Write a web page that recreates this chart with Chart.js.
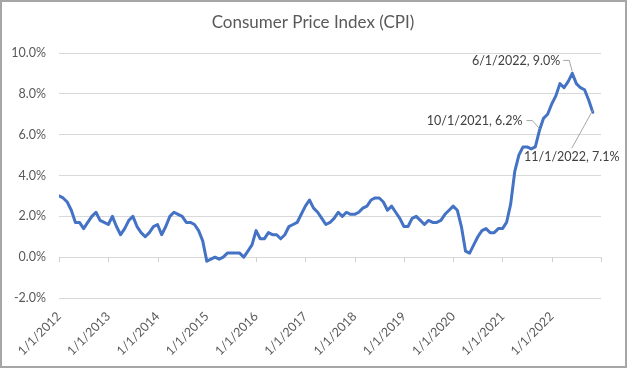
<!DOCTYPE html>
<html>
<head>
<meta charset="utf-8">
<script src="https://cdn.jsdelivr.net/npm/chart.js@4.4.0/dist/chart.umd.min.js"></script>
<style>
  html, body { margin: 0; padding: 0; background: #fff; }
</style>
</head>
<body>
<canvas id="cpiChart" width="627" height="368"></canvas>
<script>
// monthly CPI, year over year %, starting 1/1/2012
const startYear = 2012;
const yearLabels = ['1/1/2012', '1/1/2013', '1/1/2014', '1/1/2015', '1/1/2016', '1/1/2017',
  '1/1/2018', '1/1/2019', '1/1/2020', '1/1/2021', '1/1/2022'];
const cpi = [
  3.0, 2.9, 2.7, 2.3, 1.7, 1.7, 1.4, 1.7, 2.0, 2.2, 1.8, 1.7,   // 2012
  1.6, 2.0, 1.5, 1.1, 1.4, 1.8, 2.0, 1.5, 1.2, 1.0, 1.2, 1.5,   // 2013
  1.6, 1.1, 1.5, 2.0, 2.2, 2.1, 2.0, 1.7, 1.7, 1.6, 1.3, 0.8,   // 2014
  -0.2, -0.1, 0.0, -0.1, 0.0, 0.2, 0.2, 0.2, 0.2, 0.0, 0.3, 0.6, // 2015
  1.3, 0.9, 0.9, 1.2, 1.1, 1.1, 0.9, 1.1, 1.5, 1.6, 1.7, 2.1,   // 2016
  2.5, 2.8, 2.4, 2.2, 1.9, 1.6, 1.7, 1.9, 2.2, 2.0, 2.2, 2.1,   // 2017
  2.1, 2.2, 2.4, 2.5, 2.8, 2.9, 2.9, 2.7, 2.3, 2.5, 2.2, 1.9,   // 2018
  1.5, 1.5, 1.9, 2.0, 1.8, 1.6, 1.8, 1.7, 1.7, 1.8, 2.1, 2.3,   // 2019
  2.5, 2.3, 1.5, 0.3, 0.2, 0.6, 1.0, 1.3, 1.4, 1.2, 1.2, 1.4,   // 2020
  1.4, 1.7, 2.6, 4.2, 5.0, 5.4, 5.4, 5.3, 5.4, 6.2, 6.8, 7.0,   // 2021
  7.5, 7.9, 8.5, 8.3, 8.6, 9.0, 8.5, 8.3, 8.2, 7.7, 7.1         // 2022
];
const callouts = ['10/1/2021', '6/1/2022', '11/1/2022'];

const fontFamily = 'Lato, "Open Sans", sans-serif';
const textColor = '#595959';

function monthIndex(date) {
  const [m, , y] = date.split('/').map(Number);
  return (y - startYear) * 12 + (m - 1);
}

// label placement for each callout, relative to its point
const calloutPlacement = {
  '10/1/2021': { textX: -17, textY: -10, align: 'right', elbow: [[-13, -10], [-7, -10]] },
  '6/1/2022': { textX: -12, textY: -12, align: 'right', elbow: [[-9, -13], [-3, -13]] },
  '11/1/2022': { textX: -21, textY: 45, align: 'center', elbow: [[-21, 36]] }
};

const frameAndTitle = {
  id: 'frameAndTitle',
  afterDraw(chart) {
    const ctx = chart.ctx;
    ctx.save();
    ctx.strokeStyle = '#a6a6a6';
    ctx.lineWidth = 2;
    ctx.strokeRect(1, 1, chart.width - 2, chart.height - 2);
    ctx.fillStyle = textColor;
    ctx.font = '17px ' + fontFamily;
    ctx.textAlign = 'center';
    ctx.textBaseline = 'middle';
    ctx.fillText('Consumer Price Index (CPI)', 313, 23);
    ctx.restore();
  }
};

const zeroTicks = {
  id: 'zeroTicks',
  beforeDatasetsDraw(chart) {
    const ctx = chart.ctx;
    const x = chart.scales.x;
    const y0 = chart.scales.y.getPixelForValue(0);
    ctx.save();
    ctx.strokeStyle = '#d0d0d0';
    ctx.lineWidth = 1;
    ctx.beginPath();
    for (let m = 0; m <= yearLabels.length * 12; m += 12) {
      const px = Math.round(x.getPixelForValue(m)) + 0.5;
      ctx.moveTo(px, y0);
      ctx.lineTo(px, y0 + 5);
    }
    ctx.stroke();
    ctx.restore();
  }
};

const calloutLabels = {
  id: 'calloutLabels',
  afterDatasetsDraw(chart) {
    const ctx = chart.ctx;
    const xs = chart.scales.x;
    const ys = chart.scales.y;
    ctx.save();
    ctx.font = '12.5px ' + fontFamily;
    ctx.textBaseline = 'middle';
    callouts.forEach(date => {
      const i = monthIndex(date);
      const px = xs.getPixelForValue(i);
      const py = ys.getPixelForValue(cpi[i]);
      const p = calloutPlacement[date];
      ctx.strokeStyle = '#a6a6a6';
      ctx.lineWidth = 1;
      ctx.beginPath();
      p.elbow.forEach(([dx, dy], k) => {
        if (k === 0) ctx.moveTo(px + dx, py + dy);
        else ctx.lineTo(px + dx, py + dy);
      });
      ctx.lineTo(px, py - 2);
      ctx.stroke();
      ctx.fillStyle = '#404040';
      ctx.textAlign = p.align;
      ctx.fillText(date + ', ' + cpi[i].toFixed(1) + '%', px + p.textX, py + p.textY);
    });
    ctx.restore();
  }
};

new Chart(document.getElementById('cpiChart'), {
  type: 'line',
  data: {
    datasets: [
      {
        data: cpi.map((v, i) => ({ x: i, y: v })),
        borderColor: '#4472C4',
        borderWidth: 3,
        pointRadius: 0,
        tension: 0,
        borderJoinStyle: 'round',
        borderCapStyle: 'round',
      },
    ],
  },
  options: {
    responsive: false,
    animation: false,
    devicePixelRatio: 1,
    layout: {
      padding: { top: 53, right: 26, bottom: 0, left: 0 },
    },
    plugins: {
      legend: { display: false },
      tooltip: { enabled: false },
    },
    scales: {
      x: {
        type: 'linear',
        min: 0,
        max: yearLabels.length * 12,
        afterFit: s => { s.height = 70; },
        grid: { display: false },
        border: { display: false },
        ticks: {
          stepSize: 12,
          autoSkip: false,
          minRotation: 45,
          maxRotation: 45,
          padding: 3,
          color: textColor,
          font: { family: fontFamily, size: 12.5 },
          callback: v => yearLabels[v / 12] || '',
        },
      },
      y: {
        min: -2,
        max: 10,
        afterFit: s => { s.width = 59; },
        grid: { color: '#d9d9d9', drawTicks: false },
        border: { display: false },
        ticks: {
          stepSize: 2,
          padding: 13,
          color: textColor,
          font: { family: fontFamily, size: 12.5 },
          callback: v => v.toFixed(1) + '%',
        },
      },
    },
  },
  plugins: [frameAndTitle, zeroTicks, calloutLabels],
});
</script>
</body>
</html>
